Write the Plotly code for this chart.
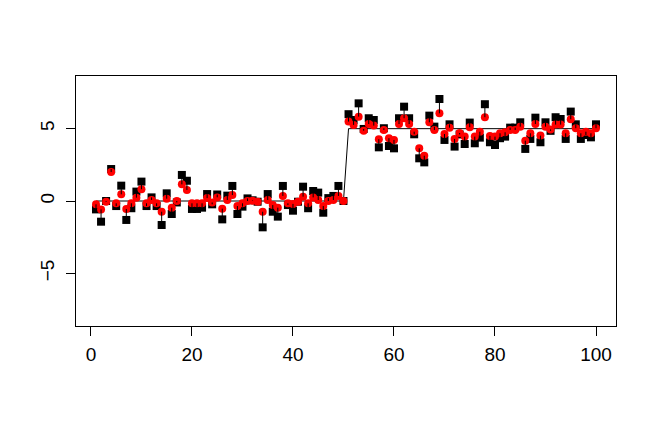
import plotly.graph_objects as go

idx = list(range(1, 101))
true_mean = [0.0] * 50 + [5.0] * 50
observed = [
    -0.58, -1.43, 0.00, 2.21, -0.35, 1.06, -1.31, -0.50, 0.65, 1.34,
    -0.35, 0.25, -0.35, -1.66, 0.53, -0.90, -0.10, 1.80, 1.40, -0.55,
    -0.55, -0.46, 0.48, -0.23, 0.45, -1.27, 0.37, 1.04, -0.90, -0.39,
    0.18, 0.05, -0.05, -1.82, 0.48, -0.74, -1.08, 1.04, -0.28, -0.67,
    -0.05, 0.99, -0.50, 0.69, 0.58, -0.81, 0.20, 0.35, 1.04, 0.00,
    6.00, 5.60, 6.75, 4.98, 5.72, 5.60, 3.71, 5.03, 3.80, 3.64,
    5.72, 6.52, 5.72, 4.61, 2.95, 2.67, 5.90, 5.14, 7.05, 4.22,
    5.30, 3.76, 4.60, 3.94, 5.42, 3.99, 4.38, 6.69, 4.06, 3.87,
    4.34, 4.45, 5.07, 5.07, 5.44, 3.60, 4.29, 5.76, 4.06, 5.44,
    4.85, 5.79, 5.67, 4.29, 6.18, 5.30, 4.29, 4.56, 4.40, 5.30,
]
fitted = [
    -0.23, -0.58, -0.05, 2.00, -0.16, 0.46, -0.55, -0.16, 0.23, 0.81,
    -0.16, 0.07, -0.16, -0.74, 0.16, -0.46, 0.00, 1.15, 0.76, -0.16,
    -0.16, -0.16, 0.20, -0.10, 0.25, -0.53, 0.07, 0.41, -0.35, -0.16,
    0.00, 0.02, -0.05, -0.74, 0.07, -0.28, -0.46, 0.35, -0.16, -0.20,
    -0.05, 0.30, -0.16, 0.25, 0.07, -0.35, 0.00, 0.07, 0.35, 0.00,
    5.49, 5.26, 5.83, 4.86, 5.32, 5.21, 4.27, 4.91, 4.34, 4.22,
    5.32, 5.72, 5.32, 4.79, 3.64, 3.13, 5.44, 4.91, 6.06, 4.63,
    5.07, 4.29, 4.70, 4.45, 5.10, 4.45, 4.79, 5.79, 4.50, 4.45,
    4.68, 4.75, 4.91, 4.91, 5.14, 4.17, 4.68, 5.32, 4.52, 5.14,
    4.95, 5.28, 5.28, 4.68, 5.65, 5.03, 4.68, 4.79, 4.68, 5.03,
]
x_ticks = [0, 20, 40, 60, 80, 100]
y_ticks = [-5, 0, 5]
y_tick_text = ["\u22125", "0", "5"]

seg_x, seg_y = [], []
for i, o, f in zip(idx, observed, fitted):
    seg_x += [i, i, None]
    seg_y += [o, f, None]

fig = go.Figure()
fig.add_trace(go.Scatter(x=idx, y=true_mean, mode="lines",
                         line=dict(color="black", width=1), hoverinfo="skip"))
fig.add_trace(go.Scatter(x=idx, y=observed, mode="markers",
                         marker=dict(symbol="square", size=8, color="black")))
fig.add_trace(go.Scatter(x=idx, y=fitted, mode="markers",
                         marker=dict(symbol="circle", size=8, color="red")))
fig.add_trace(go.Scatter(x=seg_x, y=seg_y, mode="lines",
                         line=dict(color="black", width=1), hoverinfo="skip"))

axis_common = dict(showgrid=False, zeroline=False, showline=True, mirror=True,
                   linecolor="black", linewidth=1, ticks="outside", ticklen=9,
                   tickcolor="black", tickwidth=1,
                   tickfont=dict(family="Liberation Sans, Arial", size=19, color="black"))
fig.update_layout(
    width=646, height=413,
    margin=dict(l=68, r=38, t=68, b=95),
    paper_bgcolor="white", plot_bgcolor="white",
    showlegend=False,
    xaxis=dict(range=[-2.96, 103.96], tickvals=x_ticks, ticklabelstandoff=2,
               **axis_common),
    yaxis=dict(range=[-8.64, 8.64], tickvals=y_ticks, ticktext=y_tick_text,
               tickangle=-90, ticklabelstandoff=4, **axis_common),
)
fig.write_html("out.html")
